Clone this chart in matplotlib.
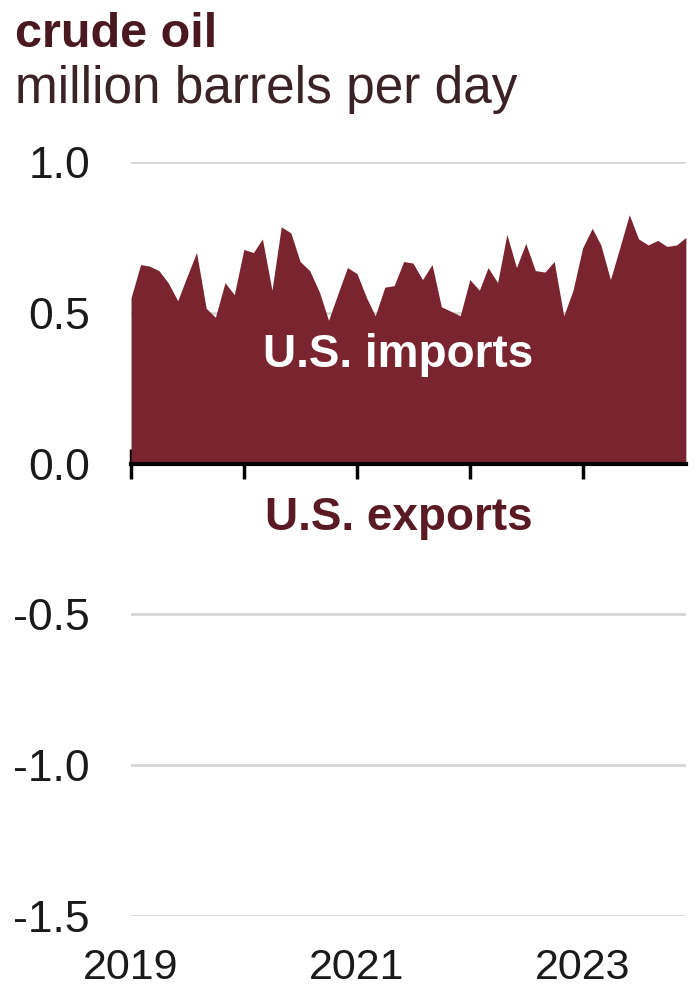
import numpy as np
import pandas as pd
import matplotlib
matplotlib.use('Agg')
import matplotlib.pyplot as plt

plt.rcParams['font.family'] = ['Liberation Sans', 'DejaVu Sans']

# monthly U.S. crude oil imports, Jan 2019 - Dec 2023 (million barrels per day)
months = pd.date_range('2019-01-01', periods=60, freq='MS')
imports = [0.55, 0.66, 0.655, 0.64, 0.60, 0.54, 0.62, 0.70, 0.515, 0.485, 0.60, 0.56,
           0.71, 0.70, 0.745, 0.575, 0.785, 0.765, 0.67, 0.64, 0.57, 0.475, 0.565, 0.65,
           0.63, 0.55, 0.49, 0.585, 0.59, 0.67, 0.665, 0.61, 0.66, 0.52, 0.505, 0.49,
           0.61, 0.575, 0.65, 0.60, 0.76, 0.65, 0.73, 0.64, 0.635, 0.67, 0.49, 0.575,
           0.715, 0.78, 0.725, 0.61, 0.715, 0.825, 0.745, 0.725, 0.74, 0.72, 0.725, 0.75]
exports = [0.0] * 60

year_ticks = pd.to_datetime(['2019-01-01', '2020-01-01', '2021-01-01', '2022-01-01', '2023-01-01'])
year_labels = ['2019', '', '2021', '', '2023']
y_ticks = [-1.5, -1.0, -0.5, 0.0, 0.5, 1.0]

fill_color = '#7a2430'
title_color = '#4a1820'

fig = plt.figure(figsize=(6.97, 9.92), dpi=100)
ax = fig.add_axes([0.188, 0.0766, 0.796, 0.7601])

ax.fill_between(months, 0, imports, color=fill_color, linewidth=0, zorder=2)
ax.fill_between(months, 0, -np.array(exports), color=fill_color, linewidth=0, zorder=2)

ax.set_ylim(-1.5, 1.0)
ax.set_xlim(months[0], months[-1])

# grid
for v in y_ticks:
    if v != 0:
        ax.axhline(v, color='#d6d6d6', linewidth=2, zorder=1)

ax.set_yticks(y_ticks)
ax.set_yticklabels([f'{v:.1f}' for v in y_ticks])
ax.tick_params(axis='y', length=0, pad=29.5, labelsize=32, labelcolor='#1a1a1a')

for s in ['top', 'right', 'left']:
    ax.spines[s].set_visible(False)
ax.spines['bottom'].set_position(('data', 0))
ax.spines['bottom'].set_linewidth(3)
ax.spines['bottom'].set_zorder(3)
ax.set_xticks(year_ticks)
ax.tick_params(axis='x', direction='inout', length=22, width=2.5, labelbottom=False)

sec = ax.secondary_xaxis('bottom')
sec.set_xticks(year_ticks)
sec.set_xticklabels(year_labels)
sec.spines['bottom'].set_visible(False)
sec.tick_params(length=0, pad=23, labelsize=31, labelcolor='#1a1a1a')

ax.text(pd.Timestamp('2021-05-15'), 0.36, 'U.S. imports', color='white', fontsize=33,
        fontweight='bold', ha='center', va='center', zorder=4)
ax.text(pd.Timestamp('2021-05-15'), -0.18, 'U.S. exports', color='#5a1a24', fontsize=33,
        fontweight='bold', ha='center', va='center', zorder=4)

fig.text(0.021, 0.953, 'crude oil', color=title_color, fontsize=35, fontweight='bold',
         ha='left', va='baseline')
fig.text(0.021, 0.896, 'million barrels per day', color='#3a2226', fontsize=37,
         ha='left', va='baseline')

fig.savefig('out.png', dpi=100)
